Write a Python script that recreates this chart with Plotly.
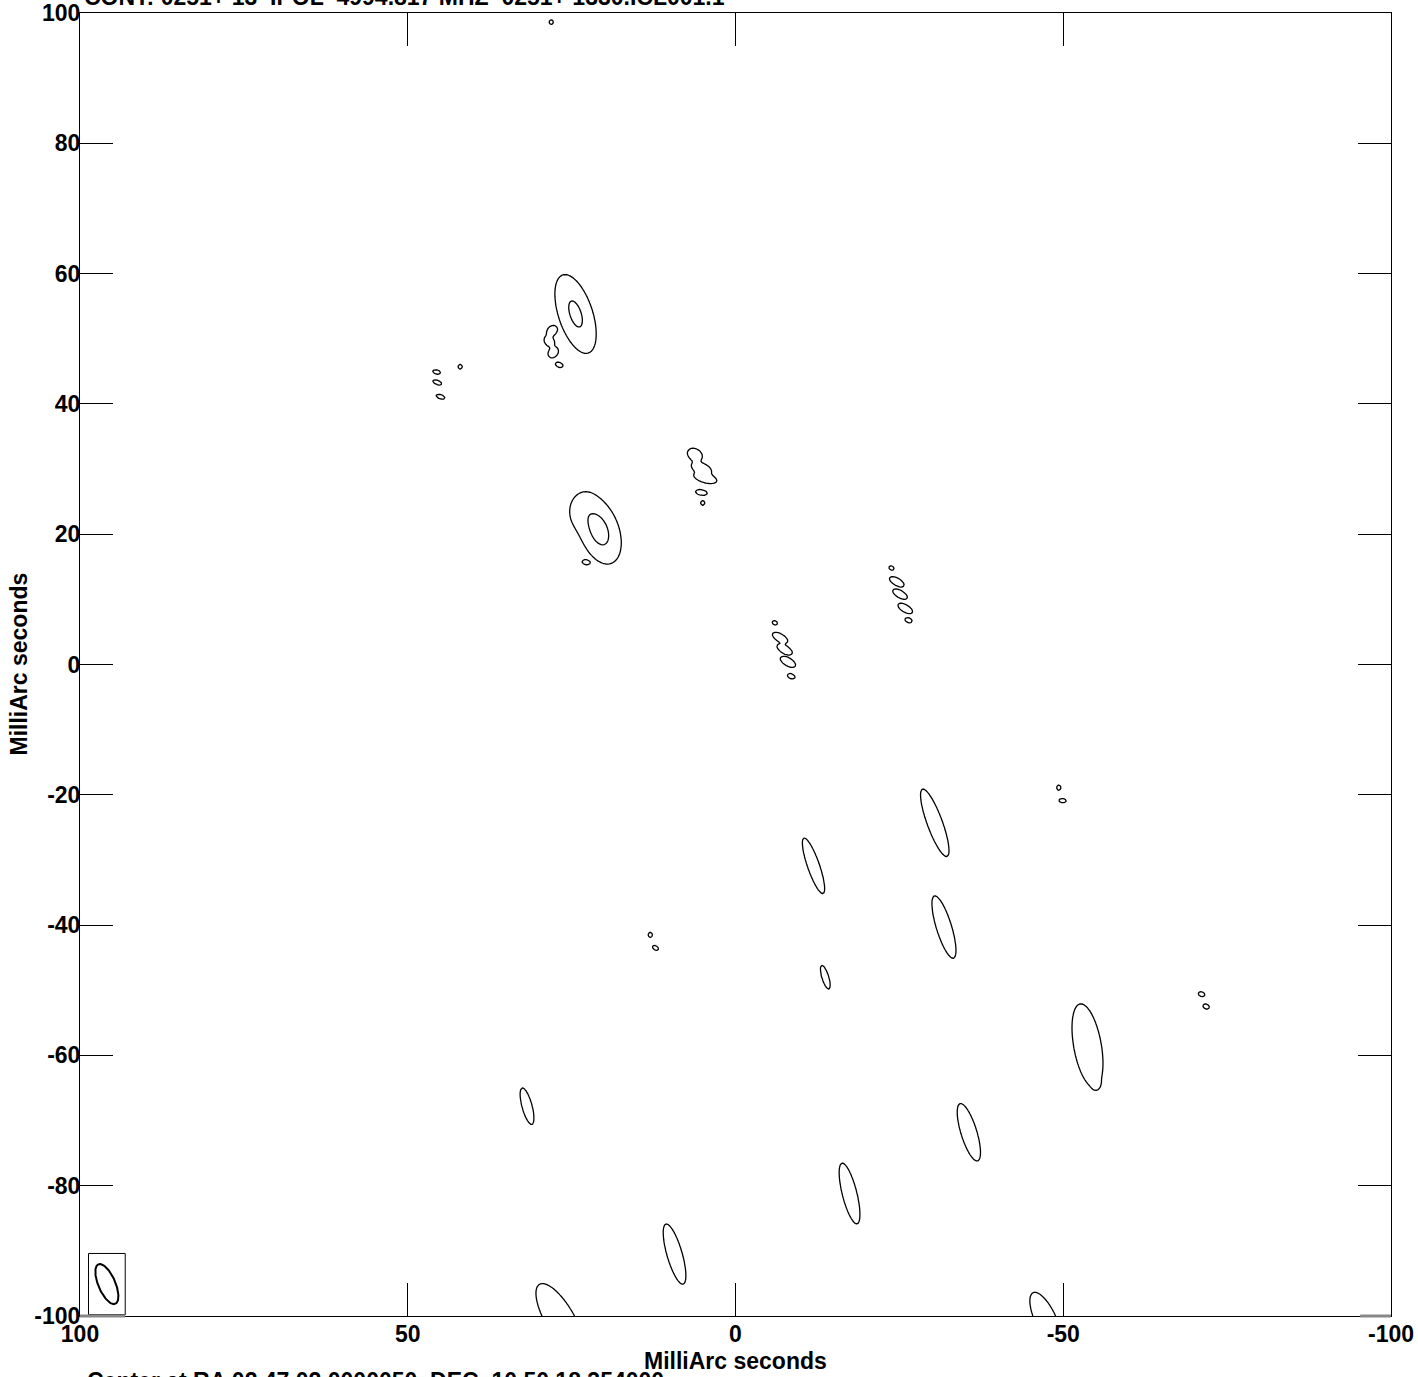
import numpy as np
import plotly.graph_objects as go

# ---------------- data ----------------
title_text = "CONT: 0251+ 13&nbsp; IPOL&nbsp; 4994.817 MHZ&nbsp; 0251+ 1330.ICL001.1"
footer_text = "Center at RA 02 47 02.0000050&nbsp; DEC&nbsp; 10 50 18.354000"
axis_label = "MilliArc seconds"

x_ticks = [100, 50, 0, -50, -100]
y_ticks = [-100, -80, -60, -40, -20, 0, 20, 40, 60, 80, 100]

# source components: centre (mas), contour semi-axes (mas), position angle (deg), peak (in units of lowest contour)
comp_x = [24.4, 28.0, 28.4, 27.8, 26.9,
          45.6, 45.5, 45.0, 42.0, 28.1,
          6.2, 5.2, 4.6, 5.2, 5.0,
          20.8, 23.2, 22.8,
          -6.0, -6.8, -7.5, -8.0, -8.5,
          -23.8, -24.6, -25.1, -25.9, -26.4,
          -30.4, -11.9, -31.8, -13.7,
          13.0, 12.2, -49.3, -49.9, -71.1, -71.8,
          -53.7, -55.0, 31.8, -35.6, -17.4, 9.3,
          26.8, -47.3]
comp_y = [53.8, 51.2, 49.6, 47.9, 46.0,
          44.9, 43.3, 41.1, 45.7, 98.6,
          32.2, 30.1, 28.6, 26.4, 24.8,
          20.6, 23.5, 15.7,
          6.4, 4.1, 2.3, 0.4, -1.8,
          14.8, 12.7, 10.8, 8.6, 6.8,
          -24.3, -30.9, -40.3, -48.0,
          -41.5, -43.5, -18.9, -20.9, -50.6, -52.5,
          -58.5, -64.3, -67.8, -71.8, -81.2, -90.5,
          -100.5, -100.5]
comp_a = [6.3, 0.9, 0.9, 0.9, 0.6,
          0.6, 0.7, 0.7, 0.35, 0.35,
          1.2, 1.6, 1.8, 0.9, 0.35,
          5.4, 2.6, 0.6,
          0.4, 1.3, 1.3, 1.3, 0.6,
          0.4, 1.25, 1.25, 1.25, 0.55,
          5.5, 4.5, 5.0, 1.9,
          0.4, 0.5, 0.4, 0.55, 0.5, 0.5,
          6.5, 0.7, 2.9, 4.6, 4.8, 4.8,
          6.2, 4.5]
comp_b = [2.6, 0.7, 0.7, 0.7, 0.35,
          0.3, 0.3, 0.3, 0.3, 0.3,
          0.9, 0.8, 0.7, 0.4, 0.3,
          3.0, 2.0, 0.35,
          0.3, 0.6, 0.6, 0.6, 0.35,
          0.3, 0.55, 0.55, 0.55, 0.35,
          1.15, 0.9, 1.15, 0.5,
          0.3, 0.3, 0.3, 0.3, 0.35, 0.35,
          2.1, 0.5, 0.75, 1.2, 1.1, 1.15,
          2.2, 1.6]
comp_pa = [18, -40, 40, -40, 70,
           75, 70, 70, 0, 0,
           60, 70, 75, 80, 0,
           20, 0, 80,
           60, 60, 60, 60, 70,
           60, 60, 60, 60, 70,
           20, 19, 17, 17,
           0, 60, 0, 85, 70, 70,
           10, 0, 15, 17, 14, 16,
           30, 25]
comp_peak = [13.3, 4, 4, 4, 4,
             4, 4, 4, 3, 3,
             4, 4, 4, 5, 3,
             16.9, 3.5, 4,
             3, 5, 5, 5, 4,
             3, 5, 5, 5, 4,
             6, 6, 6, 5,
             3, 3, 3, 3, 3, 3,
             6, 3, 6, 6, 6, 6,
             6, 6]

contour_levels = [1, 10]

# restoring beam (semi-axes, mas) and its corner box half-sizes
beam_x, beam_y = 95.9, -95.1
beam_a, beam_b, beam_pa = 3.3, 1.3, 23
beam_box_hx, beam_box_hy = 2.8, 4.7

# ---------------- synthesize map ----------------
step = 0.25
xs = np.arange(-100, 100 + step / 2, step)
ys = np.arange(-100, 100 + step / 2, step)
X, Y = np.meshgrid(xs, ys)
Z = np.zeros_like(X)
for cx, cy, a, b, pa, pk in zip(comp_x, comp_y, comp_a, comp_b, comp_pa, comp_peak):
    k = np.sqrt(2 * np.log(pk))
    sa, sb = a / k, b / k
    t = np.deg2rad(pa)
    dx, dy = X - cx, Y - cy
    u = dx * np.sin(t) + dy * np.cos(t)
    v = dx * np.cos(t) - dy * np.sin(t)
    Z += pk * np.exp(-0.5 * ((u / sa) ** 2 + (v / sb) ** 2))
Z = Z.astype(np.float32)

fig = go.Figure()
fig.add_trace(go.Contour(
    x=xs, y=ys, z=Z,
    contours=dict(start=contour_levels[0], end=contour_levels[1],
                  size=contour_levels[1] - contour_levels[0], coloring="lines"),
    colorscale=[[0, "black"], [1, "black"]],
    line=dict(width=1.3, smoothing=0),
    showscale=False, hoverinfo="skip",
))

# beam ellipse
th = np.linspace(0, 2 * np.pi, 181)
t = np.deg2rad(beam_pa)
uu, vv = beam_a * np.cos(th), beam_b * np.sin(th)
bx = beam_x + uu * np.sin(t) + vv * np.cos(t)
by = beam_y + uu * np.cos(t) - vv * np.sin(t)
fig.add_trace(go.Scatter(x=bx, y=by, mode="lines",
                         line=dict(color="black", width=2),
                         hoverinfo="skip", showlegend=False))

fig.add_shape(type="rect", xref="x", yref="y",
              x0=beam_x - beam_box_hx, x1=beam_x + beam_box_hx,
              y0=beam_y - beam_box_hy, y1=beam_y + beam_box_hy,
              line=dict(color="black", width=1))
fig.add_shape(type="line", xref="x", yref="paper", x0=100, x1=93.1, y0=0, y1=0,
              line=dict(color="#888888", width=3))
fig.add_shape(type="line", xref="x", yref="paper", x0=-95.3, x1=-100, y0=0, y1=0,
              line=dict(color="#888888", width=3))

font_fam = "Liberation Sans, Arial, sans-serif"
fs = 23
axis_common = dict(showgrid=False, zeroline=False, showline=True, linecolor="black",
                   linewidth=1, mirror="ticks", ticks="inside", ticklen=33,
                   tickcolor="black", tickwidth=1, automargin=False,
                   ticklabeloverflow="allow",
                   tickfont=dict(family=font_fam, size=fs, color="black", weight="bold"))

fig.update_layout(
    width=1418, height=1377,
    margin=dict(l=80, r=27, t=13, b=61),
    paper_bgcolor="white", plot_bgcolor="white",
    showlegend=False,
    xaxis=dict(range=[100, -100], tickvals=x_ticks, ticktext=[str(v) for v in x_ticks],
               ticklabelstandoff=-3, **axis_common),
    yaxis=dict(range=[-100, 100], tickvals=y_ticks, ticktext=[str(v) for v in y_ticks],
               ticklabelstandoff=-6, **axis_common),
    annotations=[
        dict(text="<b>" + title_text + "</b>", xref="paper", yref="paper",
             x=0, y=1, xanchor="left", yanchor="bottom", yshift=1, xshift=2,
             showarrow=False, font=dict(family=font_fam, size=fs, color="black")),
        dict(text="<b>" + footer_text + "</b>", xref="paper", yref="paper",
             x=0, y=0, xanchor="left", yanchor="top", yshift=-50, xshift=5,
             showarrow=False, font=dict(family=font_fam, size=fs, color="black")),
        dict(text="<b>" + axis_label + "</b>", xref="paper", yref="paper",
             x=0.5, y=0, xanchor="center", yanchor="middle", yshift=-45,
             showarrow=False, font=dict(family=font_fam, size=fs, color="black")),
        dict(text="<b>" + axis_label + "</b>", xref="paper", yref="paper",
             x=0, y=0.5, xanchor="center", yanchor="middle", xshift=-62, textangle=-90,
             showarrow=False, font=dict(family=font_fam, size=fs, color="black")),
    ],
)

fig.write_html("out.html", config={"displayModeBar": False},
               post_script="document.body.style.margin='0';document.body.style.overflow='hidden';")
